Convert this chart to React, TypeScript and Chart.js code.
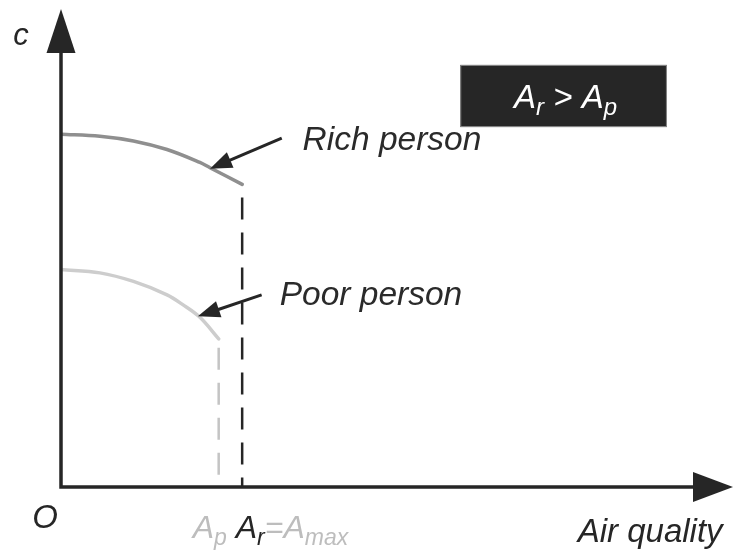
import React, { useEffect, useRef } from "react";
import { Chart, registerables } from "chart.js";

Chart.register(...registerables);

// ---- data (schematic units, x: 0..100, y: 0..100) ----
const richX = [0, 5.8, 10.8, 15.8, 20.7, 22.2, 27.0];
const richY = [73.8, 73.4, 72.4, 70.6, 67.9, 66.8, 63.3];
const poorX = [0, 5.8, 10.8, 15.8, 18.2, 20.7, 23.5];
const poorY = [45.5, 44.8, 43.0, 40.2, 38.1, 35.5, 31.0];
const thresholds = [23.5, 27.0]; // A_p, A_r = A_max
const seriesNames = ["Rich person", "Poor person"];
const xTitle = "Air quality";
const yTitle = "c";
const originLabel = "O";

const AXIS = "#262626";
const DARK_TEXT = "#262626";
const LIGHT_TEXT = "#bdbdbd";
const RICH_COLOR = "#8f8f8f";
const POOR_COLOR = "#cdcdcd";
const FONT_FAMILY = '"Liberation Sans", Arial, sans-serif';

type Run = { t: string; sub?: boolean; color: string };

function runsWidth(ctx: CanvasRenderingContext2D, runs: Run[], size: number, subSize: number) {
  let w = 0;
  for (const r of runs) {
    ctx.font = `italic ${r.sub ? subSize : size}px ${FONT_FAMILY}`;
    w += ctx.measureText(r.t).width;
  }
  return w;
}

function drawRuns(
  ctx: CanvasRenderingContext2D,
  runs: Run[],
  x: number,
  y: number,
  size: number,
  subSize: number,
  subDy: number
) {
  let cx = x;
  ctx.textAlign = "left";
  ctx.textBaseline = "alphabetic";
  for (const r of runs) {
    ctx.font = `italic ${r.sub ? subSize : size}px ${FONT_FAMILY}`;
    ctx.fillStyle = r.color;
    ctx.fillText(r.t, cx, y + (r.sub ? subDy : 0));
    cx += ctx.measureText(r.t).width;
  }
}

function arrow(ctx: CanvasRenderingContext2D, x1: number, y1: number, x2: number, y2: number) {
  const ang = Math.atan2(y2 - y1, x2 - x1);
  const len = 22;
  const half = 8.5;
  const bx = x2 - Math.cos(ang) * len;
  const by = y2 - Math.sin(ang) * len;
  ctx.strokeStyle = AXIS;
  ctx.lineWidth = 3;
  ctx.beginPath();
  ctx.moveTo(x1, y1);
  ctx.lineTo(bx + Math.cos(ang) * 2, by + Math.sin(ang) * 2);
  ctx.stroke();
  ctx.fillStyle = AXIS;
  ctx.beginPath();
  ctx.moveTo(x2, y2);
  ctx.lineTo(bx + Math.sin(ang) * half, by - Math.cos(ang) * half);
  ctx.lineTo(bx - Math.sin(ang) * half, by + Math.cos(ang) * half);
  ctx.closePath();
  ctx.fill();
}

const overlay = {
  id: "overlay",
  afterDatasetsDraw(chart: any) {
    const { ctx } = chart;
    const xs = chart.scales.x;
    const ys = chart.scales.y;
    const X = (v: number) => xs.getPixelForValue(v);
    const Y = (v: number) => ys.getPixelForValue(v);
    const x0 = X(0);
    const y0 = Y(0);
    const xEnd = X(100);
    const yEnd = Y(100);
    ctx.save();

    // axes
    ctx.strokeStyle = AXIS;
    ctx.lineWidth = 3.5;
    ctx.beginPath();
    ctx.moveTo(x0, y0 + 1.75);
    ctx.lineTo(x0, yEnd + 40);
    ctx.moveTo(x0 - 1.75, y0);
    ctx.lineTo(xEnd - 36, y0);
    ctx.stroke();
    ctx.fillStyle = AXIS;
    ctx.beginPath();
    ctx.moveTo(x0, yEnd);
    ctx.lineTo(x0 - 14.5, yEnd + 44);
    ctx.lineTo(x0 + 14.5, yEnd + 44);
    ctx.closePath();
    ctx.fill();
    ctx.beginPath();
    ctx.moveTo(xEnd + 1, y0);
    ctx.lineTo(xEnd - 39, y0 - 15);
    ctx.lineTo(xEnd - 39, y0 + 15);
    ctx.closePath();
    ctx.fill();

    // axis labels
    ctx.fillStyle = DARK_TEXT;
    ctx.textBaseline = "alphabetic";
    ctx.font = `italic 31px ${FONT_FAMILY}`;
    ctx.textAlign = "center";
    ctx.fillText(yTitle, x0 - 40, yEnd + 36);
    ctx.font = `italic 33px ${FONT_FAMILY}`;
    ctx.fillText(originLabel, x0 - 16, y0 + 41);
    ctx.textAlign = "right";
    ctx.fillText(xTitle, X(98.6), y0 + 55);

    // threshold labels under the axis
    const thrRuns: Run[] = [
      { t: "A", color: LIGHT_TEXT },
      { t: "p", sub: true, color: LIGHT_TEXT },
      { t: " ", color: LIGHT_TEXT },
      { t: "A", color: DARK_TEXT },
      { t: "r", sub: true, color: DARK_TEXT },
      { t: "=A", color: LIGHT_TEXT },
      { t: "max", sub: true, color: LIGHT_TEXT },
    ];
    drawRuns(ctx, thrRuns, X(thresholds[0]) - 26, y0 + 51, 32, 23, 7);

    // series labels and pointer arrows
    ctx.fillStyle = "#2a2a2a";
    ctx.textAlign = "left";
    ctx.font = `italic 33.5px ${FONT_FAMILY}`;
    ctx.fillText(seriesNames[0], X(36.0), Y(70.5));
    ctx.fillText(seriesNames[1], X(32.6), Y(38.1));
    arrow(ctx, X(32.9), Y(73.0), X(22.2), Y(66.6));
    arrow(ctx, X(29.9), Y(40.2), X(20.4), Y(35.7));

    // comparison box
    const bx1 = X(59.5);
    const bx2 = X(90.3);
    const by1 = Y(88.3);
    const by2 = Y(75.3);
    ctx.fillStyle = "#262626";
    ctx.fillRect(bx1, by1, bx2 - bx1, by2 - by1);
    ctx.strokeStyle = "#8a8a8a";
    ctx.lineWidth = 1;
    ctx.strokeRect(bx1 + 0.5, by1 + 0.5, bx2 - bx1 - 1, by2 - by1 - 1);
    const boxRuns: Run[] = [
      { t: "A", color: "#ffffff" },
      { t: "r", sub: true, color: "#ffffff" },
      { t: " > ", color: "#ffffff" },
      { t: "A", color: "#ffffff" },
      { t: "p", sub: true, color: "#ffffff" },
    ];
    const w = runsWidth(ctx, boxRuns, 33, 24);
    drawRuns(ctx, boxRuns, (bx1 + bx2) / 2 - w / 2 + 2, (by1 + by2) / 2 + 12, 33, 24, 7);

    ctx.restore();
  },
};

export default function App() {
  const ref = useRef<HTMLCanvasElement | null>(null);

  useEffect(() => {
    if (!ref.current) return;
    const richData = richX.map((x, i) => ({ x, y: richY[i] }));
    const poorData = poorX.map((x, i) => ({ x, y: poorY[i] }));
    const chart = new Chart(ref.current, {
      type: "scatter",
      data: {
        datasets: [
          {
            label: seriesNames[0],
            data: richData,
            showLine: true,
            borderColor: RICH_COLOR,
            borderWidth: 3.5,
            pointRadius: 0,
            tension: 0.35,
            borderCapStyle: "round",
          },
          {
            label: seriesNames[1],
            data: poorData,
            showLine: true,
            borderColor: POOR_COLOR,
            borderWidth: 3.5,
            pointRadius: 0,
            tension: 0.35,
            borderCapStyle: "round",
          },
          {
            label: "A_r",
            data: [
              { x: thresholds[1], y: richY[richY.length - 1] },
              { x: thresholds[1], y: 0 },
            ],
            showLine: true,
            borderColor: AXIS,
            borderWidth: 2.5,
            borderDash: [22, 13],
            borderDashOffset: 22,
            pointRadius: 0,
          },
          {
            label: "A_p",
            data: [
              { x: thresholds[0], y: poorY[poorY.length - 1] },
              { x: thresholds[0], y: 0 },
            ],
            showLine: true,
            borderColor: "#c4c4c4",
            borderWidth: 2.5,
            borderDash: [22, 13],
            borderDashOffset: 26,
            pointRadius: 0,
          },
        ],
      },
      options: {
        responsive: false,
        animation: false,
        layout: { padding: { left: 61, right: 2, top: 9, bottom: 71 } },
        plugins: {
          legend: { display: false },
          tooltip: { enabled: false },
        },
        scales: {
          x: { type: "linear", min: 0, max: 100, display: false },
          y: { type: "linear", min: 0, max: 100, display: false },
        },
      },
      plugins: [overlay],
    } as any);
    return () => chart.destroy();
  }, []);

  return (
    <div style={{ position: "fixed", left: 0, top: 0, width: 734, height: 558, background: "#ffffff" }}>
      <canvas ref={ref} width={734} height={558} style={{ display: "block" }} />
    </div>
  );
}
